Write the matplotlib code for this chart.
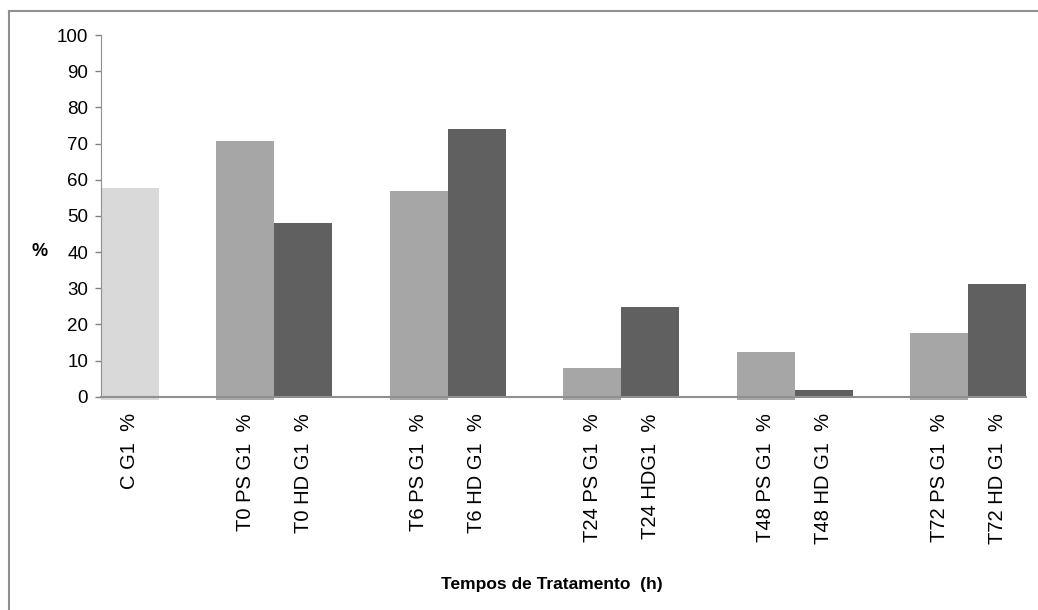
import matplotlib
matplotlib.use("Agg")
import matplotlib.pyplot as plt
from matplotlib.lines import Line2D

plt.rcParams['font.family'] = ['Liberation Sans', 'DejaVu Sans']

# data (blank slots are the gaps between groups)
labels = ['C G1  %', '', 'T0 PS G1  %', 'T0 HD G1  %', '', 'T6 PS G1  %', 'T6 HD G1  %', '',
          'T24 PS G1  %', 'T24 HDG1  %', '', 'T48 PS G1  %', 'T48 HD G1  %', '',
          'T72 PS G1  %', 'T72 HD G1  %']
values = [57.6, None, 70.6, 48.0, None, 57.0, 74.1, None,
          7.9, 24.9, None, 12.4, 1.85, None, 17.7, 31.2]
groups = ['C', None, 'PS', 'HD', None, 'PS', 'HD', None,
          'PS', 'HD', None, 'PS', 'HD', None, 'PS', 'HD']
colors = {'C': '#d9d9d9', 'PS': '#a6a6a6', 'HD': '#606060'}

fig = plt.figure(figsize=(10.38, 6.1), dpi=100)
ax = fig.add_axes([0.097, 0.3497, 0.8915, 0.5929])

for i, (v, g) in enumerate(zip(values, groups)):
    if v is None:
        continue
    # light bars poke a little under the axis line like in the original
    off = 0.8 if g != 'HD' else 0.0
    ax.bar(i, v + off, bottom=-off, width=1.0, color=colors[g], clip_on=False, zorder=1)

ax.set_xlim(-0.5, len(labels) - 0.5)
ax.set_ylim(0, 100)
ax.set_yticks(range(0, 101, 10))
ax.set_xticks(range(len(labels)))
ax.set_xticklabels(labels, rotation=90, fontsize=14.5, va='top', ha='center')
ax.tick_params(axis='x', length=0, pad=12)
ax.tick_params(axis='y', labelsize=13.5, length=4, color='#808080', width=1, pad=5)

for s in ['top', 'right']:
    ax.spines[s].set_visible(False)
ax.spines['left'].set_color('#909090')
ax.spines['bottom'].set_color('#909090')
ax.spines['bottom'].set_linewidth(1.5)
ax.spines['bottom'].set_zorder(3)

fig.text(40 / 1038, 1 - 251 / 610, '%', fontsize=13, fontweight='bold', ha='center', va='center')
fig.text(552 / 1038, 1 - 584 / 610, 'Tempos de Tratamento  (h)', fontsize=12.5,
         fontweight='bold', ha='center', va='center')

# outer frame (only left and top visible in the crop)
fig.add_artist(Line2D([9 / 1038, 9 / 1038], [0, 1 - 11 / 610], color='#909090', lw=1.5,
                      transform=fig.transFigure))
fig.add_artist(Line2D([9 / 1038, 1], [1 - 11 / 610, 1 - 11 / 610], color='#909090', lw=1.5,
                      transform=fig.transFigure))

fig.savefig('out.png', dpi=100)
